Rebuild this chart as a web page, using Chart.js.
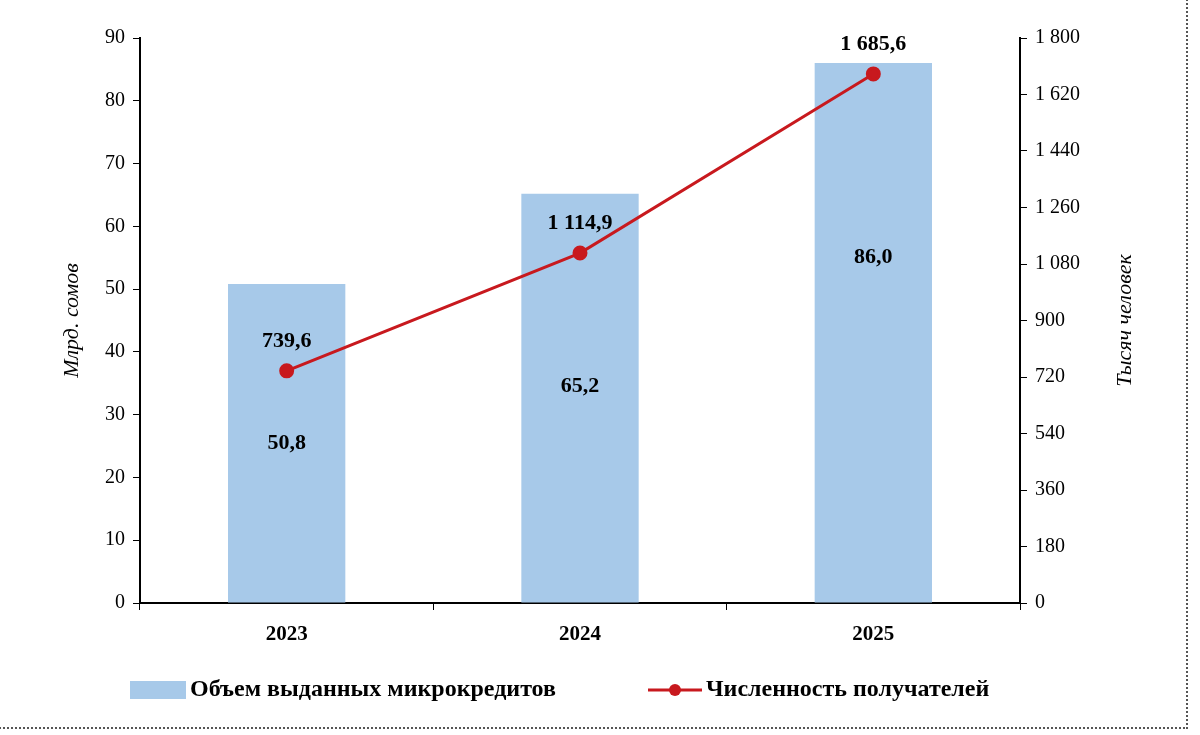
<!DOCTYPE html>
<html lang="ru">
<head>
<meta charset="UTF-8">
<title>Микрокредиты</title>
<script src="https://cdn.jsdelivr.net/npm/chart.js"></script>
<style>
  body { margin: 0; background: #fff; }
  #wrap { width: 1200px; height: 735px; position: relative; }
  #frame { position: absolute; left: -4px; top: -4px; width: 1192px; height: 733px; border: 2px dotted #555; box-sizing: border-box; pointer-events: none; }
</style>
</head>
<body>
<div id="wrap">
  <canvas id="c" width="1200" height="735"></canvas>
  <div id="frame"></div>
</div>
<script>
const years = ['2023', '2024', '2025'];
const volume = [50.8, 65.2, 86.0];          // млрд сомов
const recipients = [739.6, 1114.9, 1685.6]; // тысяч человек
const volumeName = 'Объем выданных микрокредитов';
const recipientsName = 'Численность получателей';
const leftTitle = 'Млрд. сомов';
const rightTitle = 'Тысяч человек';
// where the bar value sits, as share of bar height from its base
const barLabelAt = [0.5, 0.53, 0.64];

const barColor = '#a7c9e9';
const lineColor = '#c8191e';
const font = 'Liberation Serif';

function fmt(v, dec) {
  let s = v.toFixed(dec).replace('.', ',');
  let [i, d] = s.split(',');
  i = i.replace(/\B(?=(\d{3})+(?!\d))/g, ' ');
  return d ? i + ',' + d : i;
}

const extras = {
  id: 'extras',
  afterDatasetsDraw(chart) {
    const ctx = chart.ctx;
    const a = chart.chartArea;
    ctx.save();
    ctx.fillStyle = '#000';
    ctx.font = 'bold 22px ' + font;
    ctx.textAlign = 'center';
    ctx.textBaseline = 'middle';
    chart.getDatasetMeta(0).data.forEach((b, i) => {
      ctx.fillText(fmt(volume[i], 1), b.x, b.base - (b.base - b.y) * barLabelAt[i]);
    });
    chart.getDatasetMeta(1).data.forEach((p, i) => {
      ctx.fillText(fmt(recipients[i], 1), p.x, p.y - 30);
    });
    // axis titles
    ctx.font = 'italic 22px ' + font;
    const mid = (a.top + a.bottom) / 2;
    ctx.save(); ctx.translate(72, mid); ctx.rotate(-Math.PI / 2); ctx.fillText(leftTitle, 0, 0); ctx.restore();
    ctx.save(); ctx.translate(1125, mid); ctx.rotate(-Math.PI / 2); ctx.fillText(rightTitle, 0, 0); ctx.restore();
    // legend
    const ly = 690;
    ctx.font = 'bold 24px ' + font;
    ctx.fillStyle = barColor;
    ctx.fillRect(130, ly - 9, 56, 18);
    ctx.fillStyle = '#000';
    ctx.textAlign = 'left';
    ctx.fillText(volumeName, 190, ly);
    ctx.strokeStyle = lineColor;
    ctx.lineWidth = 3;
    ctx.beginPath(); ctx.moveTo(648, ly); ctx.lineTo(702, ly); ctx.stroke();
    ctx.fillStyle = lineColor;
    ctx.beginPath(); ctx.arc(675, ly, 6, 0, Math.PI * 2); ctx.fill();
    ctx.fillStyle = '#000';
    ctx.fillText(recipientsName, 706, ly);
    ctx.restore();
  }
};

new Chart(document.getElementById('c'), {
  data: {
    labels: years,
    datasets: [
      { type: 'bar', label: volumeName, data: volume, yAxisID: 'y', backgroundColor: barColor,
        categoryPercentage: 0.8, barPercentage: 0.5, order: 2 },
      { type: 'line', label: recipientsName, data: recipients, yAxisID: 'y1', borderColor: lineColor,
        backgroundColor: lineColor, borderWidth: 3, pointRadius: 6, pointHoverRadius: 6, order: 1 }
    ]
  },
  options: {
    responsive: false,
    animation: false,
    layout: { padding: { top: 38, left: 0, right: 0, bottom: 0 } },
    plugins: { legend: { display: false }, tooltip: { enabled: false } },
    scales: {
      x: {
        offset: true,
        grid: { offset: true, drawOnChartArea: false, color: '#000', tickLength: 7 },
        border: { color: '#000', width: 2 },
        ticks: { color: '#000', font: { family: font, size: 21, weight: 'bold' }, padding: 12 },
        afterFit(s) { s.height = 132; }
      },
      y: {
        position: 'left', min: 0, max: 90,
        ticks: { stepSize: 10, color: '#000', font: { family: font, size: 20 }, padding: 8 },
        grid: { drawOnChartArea: false, color: '#000', tickLength: 7 },
        border: { color: '#000', width: 2 },
        afterFit(s) { s.width = 140; }
      },
      y1: {
        position: 'right', min: 0, max: 1800,
        ticks: { stepSize: 180, color: '#000', font: { family: font, size: 20 }, padding: 8,
          callback: v => fmt(v, 0) },
        grid: { drawOnChartArea: false, color: '#000', tickLength: 7 },
        border: { color: '#000', width: 2 },
        afterFit(s) { s.width = 180; }
      }
    }
  },
  plugins: [extras]
});
</script>
</body>
</html>
